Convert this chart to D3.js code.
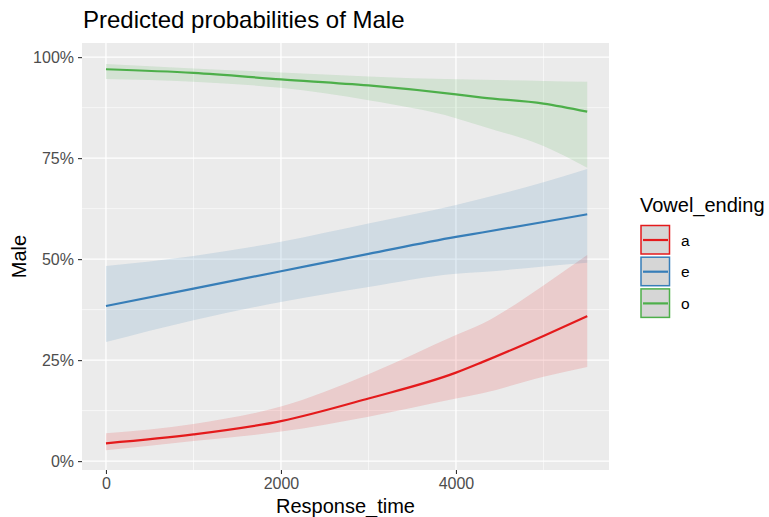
<!DOCTYPE html>
<html lang="en">
  <head>
    <meta charset="UTF-8" />
    <script src="https://d3js.org/d3.v7.min.js"></script>
    <title>Predicted probabilities of Male</title>
    <style type="text/css">
      body { margin: 0; background: #fff; }
      text { font-family: "Liberation Sans", Arial, sans-serif; }
    </style>
  </head>
  <body>
    <svg width="769" height="517"></svg>
  </body>
  <script type="text/javascript">
    // data
    const responseTime = [0, 1000, 2000, 3000, 4000, 4300, 5000, 5500];
    const groups = ['a', 'e', 'o'];
    const colors = ['#E41A1C', '#377EB8', '#4DAF4A'];
    const predA = [0.044, 0.066, 0.099, 0.155, 0.219, 0.245, 0.310, 0.359];
    const lowA = [0.027, 0.050, 0.073, 0.110, 0.155, 0.168, 0.209, 0.233];
    const highA = [0.069, 0.092, 0.135, 0.215, 0.312, 0.340, 0.435, 0.510];
    const predE = [0.384, 0.427, 0.470, 0.513, 0.555, 0.566, 0.592, 0.611];
    const lowE = [0.295, 0.349, 0.394, 0.431, 0.464, 0.468, 0.482, 0.491];
    const highE = [0.483, 0.508, 0.543, 0.588, 0.634, 0.650, 0.690, 0.723];
    const predO = [0.970, 0.961, 0.945, 0.930, 0.908, 0.900, 0.885, 0.865];
    const lowO = [0.946, 0.939, 0.924, 0.893, 0.849, 0.829, 0.780, 0.726];
    const highO = [0.983, 0.972, 0.962, 0.952, 0.945, 0.944, 0.941, 0.939];
    const xTicks = [0, 2000, 4000];
    const xMinor = [1000, 3000, 5000];
    const yTicks = [0, 0.25, 0.5, 0.75, 1];
    const yMinor = [0.125, 0.375, 0.625, 0.875];

    const series = [
      { key: 'a', pred: predA, low: lowA, high: highA },
      { key: 'e', pred: predE, low: lowE, high: highE },
      { key: 'o', pred: predO, low: lowO, high: highO },
    ];

    const svg = d3.select('svg');
    const panel = { left: 82, right: 609, top: 43, bottom: 470 };

    const xScale = d3.scaleLinear().domain([-274, 5749]).range([panel.left, panel.right]);
    const yScale = d3.scaleLinear().domain([-0.022, 1.035]).range([panel.bottom, panel.top]);
    const color = d3.scaleOrdinal().domain(groups).range(colors);

    // panel background
    svg.append('rect')
      .attr('x', panel.left).attr('y', panel.top)
      .attr('width', panel.right - panel.left).attr('height', panel.bottom - panel.top)
      .attr('fill', '#EBEBEB');

    // grid
    const grid = svg.append('g');
    grid.selectAll('.ymin').data(yMinor).join('line')
      .attr('x1', panel.left).attr('x2', panel.right)
      .attr('y1', (d) => yScale(d)).attr('y2', (d) => yScale(d))
      .attr('stroke', '#fff').attr('stroke-width', 0.6);
    grid.selectAll('.xmin').data(xMinor).join('line')
      .attr('y1', panel.top).attr('y2', panel.bottom)
      .attr('x1', (d) => xScale(d)).attr('x2', (d) => xScale(d))
      .attr('stroke', '#fff').attr('stroke-width', 0.6);
    grid.selectAll('.ymaj').data(yTicks).join('line')
      .attr('x1', panel.left).attr('x2', panel.right)
      .attr('y1', (d) => yScale(d)).attr('y2', (d) => yScale(d))
      .attr('stroke', '#fff').attr('stroke-width', 1.3);
    grid.selectAll('.xmaj').data(xTicks).join('line')
      .attr('y1', panel.top).attr('y2', panel.bottom)
      .attr('x1', (d) => xScale(d)).attr('x2', (d) => xScale(d))
      .attr('stroke', '#fff').attr('stroke-width', 1.3);

    // ribbons
    const area = d3.area()
      .x((d) => xScale(d.x))
      .y0((d) => yScale(d.lo))
      .y1((d) => yScale(d.hi))
      .curve(d3.curveMonotoneX);
    const line = d3.line()
      .x((d) => xScale(d.x))
      .y((d) => yScale(d.y))
      .curve(d3.curveMonotoneX);

    for (const s of series) {
      const pts = responseTime.map((x, i) => ({ x, y: s.pred[i], lo: s.low[i], hi: s.high[i] }));
      svg.append('path').datum(pts)
        .attr('d', area)
        .attr('fill', color(s.key)).attr('fill-opacity', 0.15);
    }
    for (const s of series) {
      const pts = responseTime.map((x, i) => ({ x, y: s.pred[i] }));
      svg.append('path').datum(pts)
        .attr('d', line)
        .attr('fill', 'none').attr('stroke', color(s.key)).attr('stroke-width', 2.2);
    }

    // axes
    const xAxis = svg.append('g')
      .attr('transform', `translate(0, ${panel.bottom})`)
      .call(d3.axisBottom(xScale).tickValues(xTicks).tickSize(4).tickPadding(4).tickFormat(d3.format('d')));
    const yAxis = svg.append('g')
      .attr('transform', `translate(${panel.left}, 0)`)
      .call(d3.axisLeft(yScale).tickValues(yTicks).tickSize(4).tickPadding(4).tickFormat(d3.format('.0%')));
    for (const ax of [xAxis, yAxis]) {
      ax.select('.domain').remove();
      ax.selectAll('.tick line').attr('stroke', '#333').attr('stroke-width', 1.1);
      ax.selectAll('.tick text')
        .attr('fill', '#4D4D4D')
        .attr('font-size', '16px')
        .attr('font-family', '"Liberation Sans", Arial, sans-serif');
    }

    // titles
    svg.append('text')
      .attr('x', 83).attr('y', 28)
      .attr('font-size', '24px')
      .attr('fill', '#000')
      .text('Predicted probabilities of Male');
    svg.append('text')
      .attr('x', (panel.left + panel.right) / 2).attr('y', 513)
      .attr('text-anchor', 'middle')
      .attr('font-size', '20px')
      .text('Response_time');
    svg.append('text')
      .attr('transform', `translate(26, ${(panel.top + panel.bottom) / 2}) rotate(-90)`)
      .attr('text-anchor', 'middle')
      .attr('font-size', '20px')
      .text('Male');

    // legend
    const legend = svg.append('g').attr('transform', 'translate(640, 0)');
    legend.append('text')
      .attr('x', 0).attr('y', 212)
      .attr('font-size', '20px')
      .text('Vowel_ending');
    const keys = legend.selectAll('.key').data(groups).join('g')
      .attr('transform', (d, i) => `translate(0, ${225 + i * 31.7})`);
    keys.append('rect')
      .attr('x', 1).attr('y', 0.5).attr('width', 28.5).attr('height', 28.5)
      .attr('fill', '#D6D6D6')
      .attr('stroke', (d) => color(d)).attr('stroke-width', 1.5);
    keys.append('line')
      .attr('x1', 3).attr('x2', 28).attr('y1', 15).attr('y2', 15)
      .attr('stroke', (d) => color(d)).attr('stroke-width', 2.2);
    keys.append('text')
      .attr('x', 41).attr('y', 20.5)
      .attr('font-size', '15.5px')
      .text((d) => d);
  </script>
</html>
